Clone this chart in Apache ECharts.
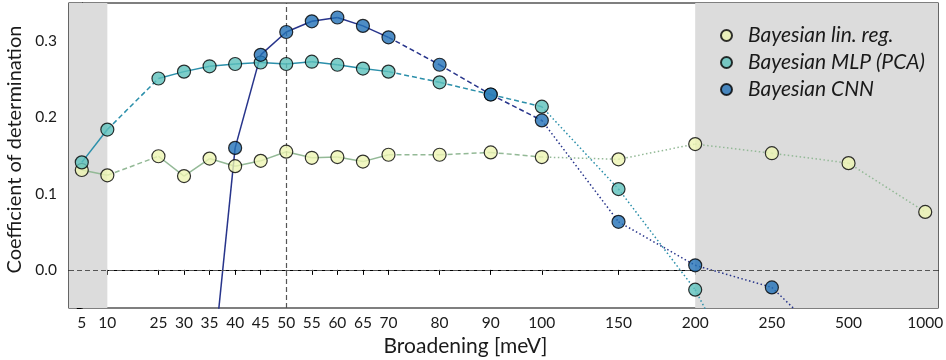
<!DOCTYPE html>
<html>
<head>
<meta charset="utf-8">
<script src="https://cdn.jsdelivr.net/npm/echarts@6/dist/echarts.min.js"></script>
<style>
  html, body { margin: 0; padding: 0; background: #fff; }
  #chart { width: 946px; height: 360px; }
</style>
</head>
<body>
<div id="chart"></div>
<script>
// broadening values and their slot on the (non-linear) x axis
const broadening = [5, 10, 25, 30, 35, 40, 45, 50, 55, 60, 65, 70, 80, 90, 100, 150, 200, 250, 500, 1000];
const slot = [0, 1, 3, 4, 5, 6, 7, 8, 9, 10, 11, 12, 14, 16, 18, 21, 24, 27, 30, 33];

const linReg = [0.131, 0.124, 0.149, 0.123, 0.146, 0.136, 0.143, 0.155, 0.147, 0.148, 0.142, 0.151, 0.151, 0.154, 0.148, 0.145, 0.165, 0.153, 0.140, 0.076];
const mlp = [0.141, 0.184, 0.251, 0.260, 0.267, 0.270, 0.272, 0.270, 0.273, 0.269, 0.264, 0.260, 0.246, 0.230, 0.214, 0.106, -0.026, -0.22, null, null];
const cnn = [null, null, null, null, -0.17, 0.160, 0.282, 0.312, 0.326, 0.331, 0.320, 0.305, 0.269, 0.230, 0.196, 0.063, 0.006, -0.023, -0.12, null];

const yTicks = [0, 0.1, 0.2, 0.3];

const models = [
  { name: "Bayesian lin. reg.", values: linReg, fill: "#eef5b3", line: "#93b996" },
  { name: "Bayesian MLP (PCA)", values: mlp, fill: "#5cc1bc", line: "#2b8faa" },
  { name: "Bayesian CNN", values: cnn, fill: "#2270b6", line: "#27348b" },
];

// line style of the segment from point i to point i+1
function segType(i) {
  if (i === 0) return "solid";
  if (i === 1) return [5, 3];
  if (i <= 10) return "solid";
  if (i <= 13) return [5, 3];
  return [1.5, 2.5];
}

const series = [];
models.forEach((m) => {
  for (let i = 0; i < broadening.length - 1; i++) {
    const a = m.values[i], b = m.values[i + 1];
    if (a == null || b == null) continue;
    series.push({
      type: "line",
      data: [[slot[i], a], [slot[i + 1], b]],
      symbol: "none",
      silent: true,
      z: 2,
      lineStyle: { color: m.line, width: 1.5, type: segType(i) },
    });
  }
});
models.forEach((m) => {
  series.push({
    name: m.name,
    type: "scatter",
    symbolSize: 13,
    z: 5,
    data: broadening.map((b, i) => [slot[i], m.values[i]]).filter((d) => d[1] != null),
    itemStyle: { color: m.fill, borderColor: "#000", borderWidth: 1.2 },
  });
});

// shaded regions and reference lines
series.push({
  type: "line",
  data: [],
  silent: true,
  z: 1,
  markArea: {
    silent: true,
    itemStyle: { color: "#dcdcdc" },
    data: [
      [{ xAxis: -0.5 }, { xAxis: 1 }],
      [{ xAxis: 24 }, { xAxis: 33.5 }],
    ],
  },
  markLine: {
    silent: true,
    symbol: "none",
    label: { show: false },
    lineStyle: { color: "#555", width: 1.2, type: [5, 3] },
    data: [{ xAxis: 8 }, { yAxis: 0 }],
  },
});

const chart = echarts.init(document.getElementById("chart"));
chart.setOption({
  animation: false,
  textStyle: { fontFamily: "Lato" },
  grid: {
    left: 69, right: 8, top: 3, bottom: 52,
    outerBoundsMode: "none",
    show: true, borderColor: "#000", borderWidth: 1.2, backgroundColor: "transparent",
  },
  legend: {
    data: models.map((m) => m.name),
    orient: "vertical",
    left: 715,
    top: 20,
    itemWidth: 11,
    itemHeight: 11,
    itemGap: 6,
    icon: "circle",
    textStyle: {
      fontSize: 21, lineHeight: 21, fontStyle: "italic", color: "#1a1a1a",
      fontFamily: "Lato", padding: [0, 0, 0, 11],
    },
  },
  xAxis: {
    type: "value",
    min: -0.5,
    max: 33.5,
    name: "Broadening [meV]",
    nameLocation: "middle",
    nameGap: 27,
    nameTextStyle: { fontSize: 21, color: "#1a1a1a", fontFamily: "Lato", padding: [0, 76, 0, 0] },
    splitLine: { show: false },
    axisLine: { lineStyle: { color: "#000", width: 1.2 } },
    axisTick: { customValues: slot, length: 5, lineStyle: { color: "#000" } },
    axisLabel: {
      customValues: slot,
      fontSize: 15.5,
      color: "#1a1a1a",
      margin: 7,
      formatter: (v) => {
        const k = slot.indexOf(Math.round(v));
        return k >= 0 ? String(broadening[k]) : "";
      },
    },
  },
  yAxis: {
    type: "value",
    min: -0.05,
    max: 0.35,
    interval: 0.05,
    name: "Coefficient of determination",
    nameLocation: "middle",
    nameGap: 40,
    nameTextStyle: { fontSize: 20, color: "#1a1a1a", fontFamily: "Lato", padding: [0, 0, 0, 12] },
    splitLine: { show: false },
    axisLine: { show: true, lineStyle: { color: "#000", width: 1.2 } },
    axisTick: { length: 5, lineStyle: { color: "#000" } },
    axisLabel: {
      customValues: yTicks,
      fontSize: 15.5,
      color: "#1a1a1a",
      margin: 12,
      formatter: (v) => v.toFixed(1),
    },
  },
  series: series,
});
</script>
</body>
</html>
